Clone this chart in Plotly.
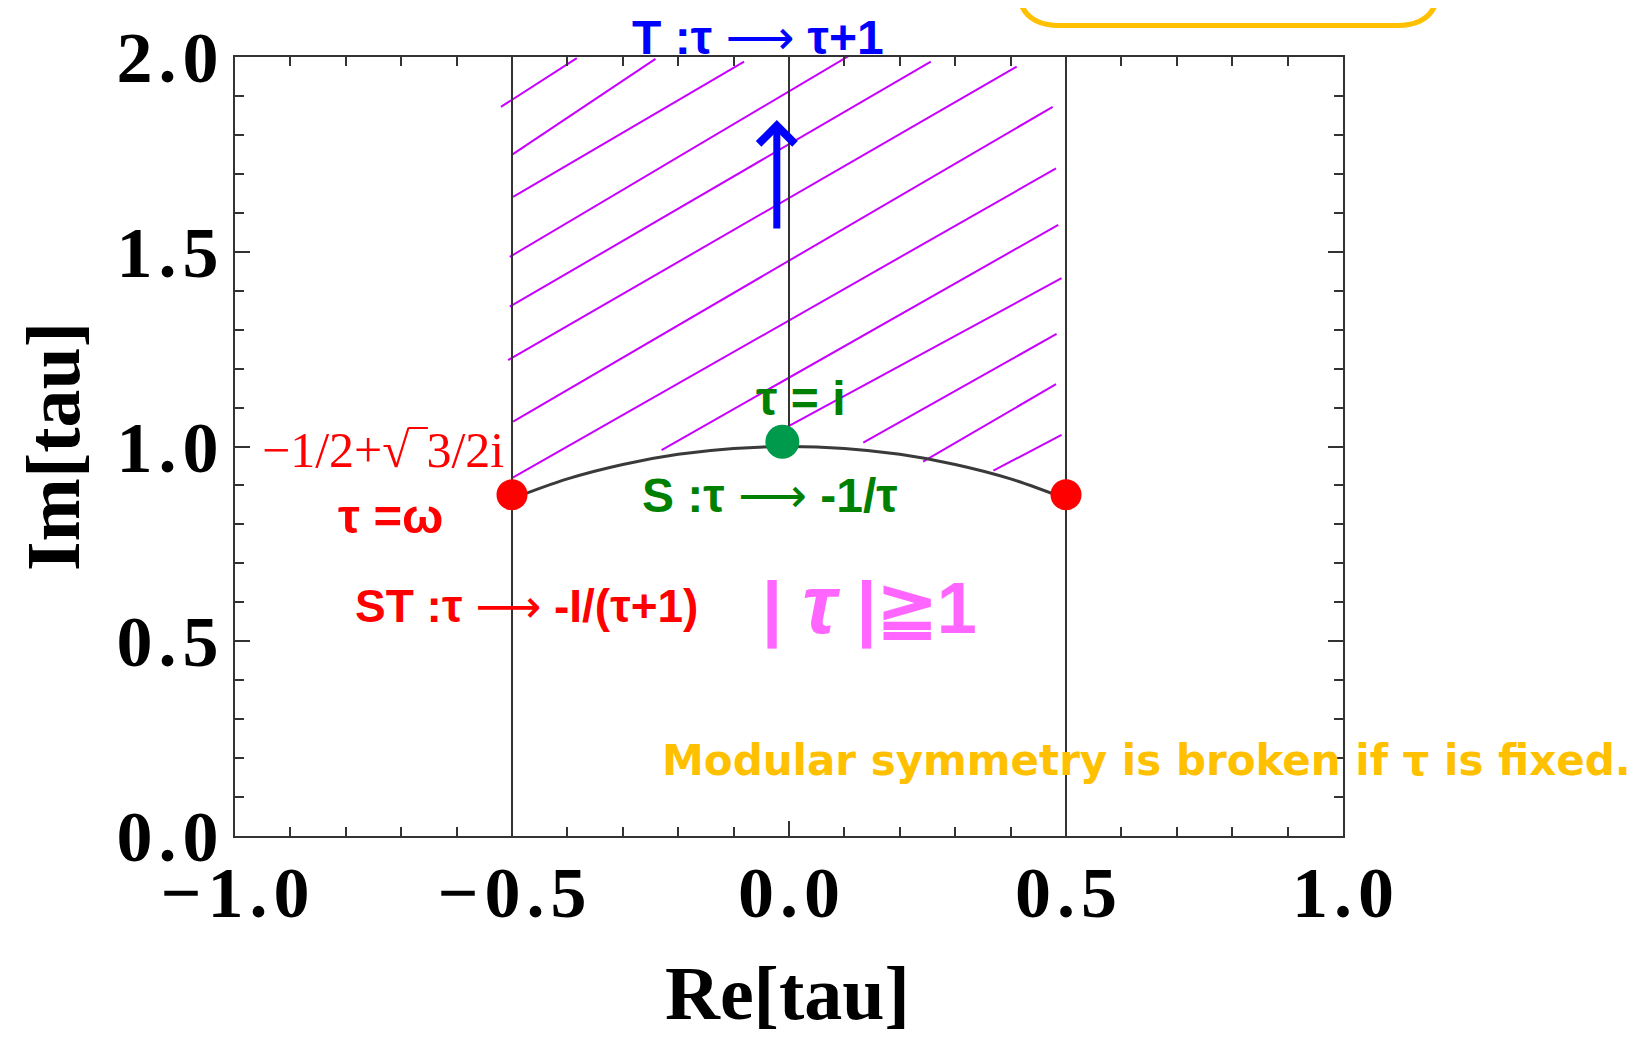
import plotly.graph_objects as go

# ---------------- data ----------------
re_range = [-1.0, 1.0]
im_range = [0.0, 2.0]

edge_re = [-0.5, 0.5]          # Re(tau) = -1/2 and +1/2 boundaries
edge_im = [0.0, 2.0]
mid_re = [0.0, 0.0]            # Re(tau) = 0 line above the arc
mid_im = [1.0, 2.0]

arc_re = [-0.5, -0.4, -0.3, -0.2, -0.1, 0.0, 0.1, 0.2, 0.3, 0.4, 0.5]
arc_im = [0.866, 0.917, 0.954, 0.980, 0.995, 1.0, 0.995, 0.980, 0.954, 0.917, 0.866]

omega_re = [-0.5, 0.5]
omega_im = [0.876, 0.876]
i_re = [-0.012]
i_im = [1.012]

hatch_re0 = [-0.520, -0.501, -0.498, -0.504, -0.504, -0.507, -0.498, -0.501, -0.230, -0.004, 0.134, 0.242, 0.369]
hatch_im0 = [1.872, 1.748, 1.641, 1.487, 1.359, 1.222, 1.064, 0.918, 0.991, 1.050, 1.010, 0.961, 0.938]
hatch_re1 = [-0.383, -0.241, -0.081, 0.113, 0.256, 0.411, 0.476, 0.482, 0.486, 0.492, 0.483, 0.482, 0.492]
hatch_im1 = [1.997, 1.995, 1.988, 2.007, 1.988, 1.975, 1.872, 1.714, 1.569, 1.432, 1.289, 1.160, 1.030]

x_tick_vals = [-1.0, -0.5, 0.0, 0.5, 1.0]
x_tick_labels = ["−1.0", "−0.5", "0.0", "0.5", "1.0"]
y_tick_vals = [0.0, 0.5, 1.0, 1.5, 2.0]
y_tick_labels = ["0.0", "0.5", "1.0", "1.5", "2.0"]

arrow_re = -0.022
arrow_im_tail = 1.556
arrow_im_tip = 1.838

# ---------------- layout helpers ----------------
OFF = 8                       # default <body> margin of the page
SW, SH = 1639, 1038           # screenshot size
W, H = SW - OFF, SH - OFF
P_L, P_R, P_T, P_B = 235, 1343, 57, 836   # plot area in screenshot pixels
ML, MT = P_L - OFF, P_T - OFF
MR, MB = W - (P_R - OFF), H - (P_B - OFF)
PW, PH = P_R - P_L, P_B - P_T


def px(x):
    return (x - P_L) / PW


def py(y):
    return (P_B - y) / PH


SANS = "Liberation Sans, Arial, sans-serif"
SERIF = "Liberation Serif, Times New Roman, serif"
ROUND = "DejaVu Sans, sans-serif"
FRAME = "#333333"
ARROW = '<span style="font-family:DejaVu Sans;font-weight:normal">⟶</span>'


def spaced(s):
    return "\u200a".join(list(s))


fig = go.Figure()

# hatch lines
hx, hy = [], []
for a, b, c, d in zip(hatch_re0, hatch_im0, hatch_re1, hatch_im1):
    hx += [a, c, None]
    hy += [b, d, None]
fig.add_trace(go.Scatter(x=hx, y=hy, mode="lines", line=dict(color="#C800FF", width=2),
                         hoverinfo="skip", cliponaxis=False, showlegend=False))

# boundaries
for xv in edge_re:
    fig.add_trace(go.Scatter(x=[xv, xv], y=edge_im, mode="lines",
                             line=dict(color=FRAME, width=2), showlegend=False))
fig.add_trace(go.Scatter(x=mid_re, y=mid_im, mode="lines",
                         line=dict(color=FRAME, width=2), showlegend=False))

# arc |tau| = 1
fig.add_trace(go.Scatter(x=arc_re, y=arc_im, mode="lines", line_shape="spline",
                         line=dict(color="#3a3a3a", width=3), showlegend=False))

# special points
fig.add_trace(go.Scatter(x=omega_re, y=omega_im, mode="markers",
                         marker=dict(color="#FF0000", size=31), cliponaxis=False, showlegend=False))
fig.add_trace(go.Scatter(x=i_re, y=i_im, mode="markers",
                         marker=dict(color="#009A4C", size=34), cliponaxis=False, showlegend=False))

annotations = [
    # blue arrow
    dict(x=arrow_re, y=arrow_im_tip, ax=arrow_re, ay=arrow_im_tail, xref="x", yref="y",
         axref="x", ayref="y", text="", showarrow=True, arrowhead=4, arrowsize=1,
         arrowwidth=7, arrowcolor="#0000FF", standoff=0),
    dict(x=px(758), y=py(37), text=f"<b>T :τ </b>{ARROW}<b> τ+1</b>",
         font=dict(family=SANS, size=48, color="#0000FF")),
    dict(x=px(800), y=py(399), text="<b>τ = i</b>", font=dict(family=SANS, size=48, color="#008000")),
    dict(x=px(770), y=py(495), text=f"<b>S :τ </b>{ARROW}<b> -1/τ</b>",
         font=dict(family=SANS, size=48, color="#008000")),
    dict(x=px(383), y=py(450), text="−1/2+√‾3/2i", font=dict(family=SERIF, size=50, color="#FF0000")),
    dict(x=px(391), y=py(516), text="<b>τ =ω</b>", font=dict(family=SANS, size=49, color="#FF0000")),
    dict(x=px(526), y=py(606), text=f"<b>ST :τ </b>{ARROW}<b> -I/(τ+1)</b>",
         font=dict(family=SANS, size=46, color="#FF0000")),
    dict(x=px(869), y=py(604), text='<b>| <i><span style="font-size:84px">τ</span></i> |≧1</b>',
         font=dict(family=SANS, size=72, color="#FF66FF")),
    dict(x=px(1146), y=py(760), text="Modular symmetry is broken if τ is fixed.",
         font=dict(family=ROUND, size=42, color="#FFC000", weight="bold")),
    # axis titles
    dict(x=px(787), y=py(993), text="<b>Re[tau]</b>", font=dict(family=SERIF, size=76, color="#000000")),
    dict(x=px(53), y=py(447), text="<b>Im[tau]</b>", textangle=-90,
         font=dict(family=SERIF, size=76, color="#000000")),
]
for a in annotations[1:]:
    a.update(xref="paper", yref="paper", showarrow=False, xanchor="center", yanchor="middle")

# yellow rounded box (partially above the figure)
bx0, bx1 = px(1017.5), px(1439)
by0, by1 = py(25.5), py(-80)
rx, ry = 42 / PW, 42 / PH
box_path = (f"M {bx0},{by1} L {bx0},{by0 + ry} Q {bx0},{by0} {bx0 + rx},{by0} "
            f"L {bx1 - rx},{by0} Q {bx1},{by0} {bx1},{by0 + ry} L {bx1},{by1}")

fig.update_layout(
    width=W, height=H, autosize=False,
    margin=dict(l=ML, r=MR, t=MT, b=MB, pad=0),
    paper_bgcolor="white", plot_bgcolor="white",
    showlegend=False,
    annotations=annotations,
    shapes=[dict(type="path", path=box_path, xref="paper", yref="paper",
                 line=dict(color="#FFC000", width=5), layer="above")],
    xaxis=dict(range=re_range, tickvals=x_tick_vals, ticktext=[spaced(t) for t in x_tick_labels],
               tickfont=dict(family=SERIF, size=72, color="#000000", weight="bold"),
               ticks="inside", ticklen=15, tickwidth=2, tickcolor=FRAME,
               minor=dict(dtick=0.1, ticks="inside", ticklen=9, tickwidth=1.5, tickcolor=FRAME),
               showline=True, linecolor=FRAME, linewidth=2, mirror="ticks",
               showgrid=False, zeroline=False, ticklabelstandoff=-7, automargin=False),
    yaxis=dict(range=im_range, tickvals=y_tick_vals, ticktext=[spaced(t) for t in y_tick_labels],
               tickfont=dict(family=SERIF, size=72, color="#000000", weight="bold"),
               ticks="inside", ticklen=15, tickwidth=2, tickcolor=FRAME,
               minor=dict(dtick=0.1, ticks="inside", ticklen=9, tickwidth=1.5, tickcolor=FRAME),
               showline=True, linecolor=FRAME, linewidth=2, mirror="ticks",
               showgrid=False, zeroline=False, ticklabelstandoff=0, automargin=False),
)

fig.write_html("out.html")
